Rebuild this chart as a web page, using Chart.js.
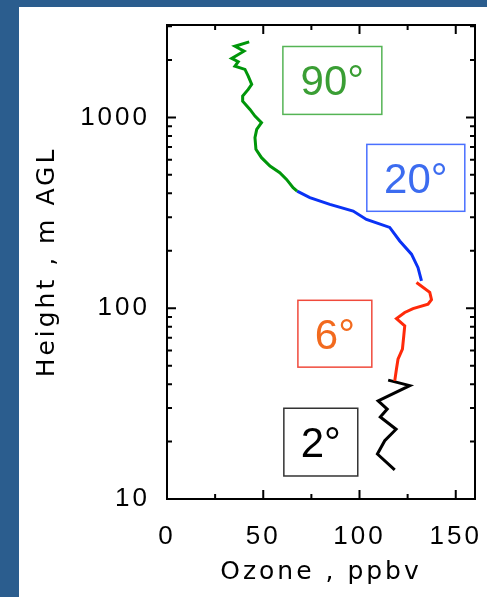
<!DOCTYPE html>
<html>
<head>
<meta charset="utf-8">
<script src="https://cdn.jsdelivr.net/npm/chart.js@4"></script>
<style>
  body { margin: 0; background: #2b5d8e; width: 487px; height: 597px; overflow: hidden; }
  #panel { position: absolute; left: 19px; top: 7px; width: 468px; height: 590px; background: #fff; }
</style>
</head>
<body>
<div id="panel"><canvas id="ozoneChart" width="468" height="590"></canvas></div>
<script>
// ozone (ppbv) vs height (m AGL), one trace per elevation angle
const greenOzone  = [42.7, 35.3, 40.0, 33.6, 37.0, 35.3, 40.5, 42.2, 44.0, 42.2, 39.3, 39.3, 43.1, 45.7, 49.1, 46.6, 45.7, 46.2, 49.1, 53.5, 58.6, 62.1, 65.5, 67.6];
const greenHeight = [2490, 2361, 2224, 2037, 1957, 1856, 1784, 1645, 1489, 1402, 1293, 1217, 1101, 1016, 938, 865, 783, 680, 615, 556, 513, 473, 428, 411];

const blueOzone  = [67.6, 74.2, 84.6, 96.7, 103.6, 115.7, 120.9, 127.0, 130.4, 132.2];
const blueHeight = [411, 380, 350, 323, 292, 265, 225, 192, 163, 139];

const redOzone  = [129.6, 136.5, 137.4, 135.6, 127.8, 123.5, 119.2, 123.5, 123.0, 122.3, 120.0, 119.2, 118.3];
const redHeight = [136.3, 121, 111, 105, 99.6, 95, 88.3, 80.8, 71.6, 61.0, 54.0, 48.0, 41.6];

const blackOzone  = [114.9, 126.1, 109.7, 114.4, 110.8, 119.0, 113.1, 109.3, 118.3];
const blackHeight = [42.0, 39.3, 32.7, 29.6, 26.9, 23.2, 20.2, 17.2, 14.2];

const xTicks = [0, 50, 100, 150];
const xMinorTicks = [25, 75, 125];
const yTicks = [10, 100, 1000];
const yMinorTicks = [20, 30, 40, 50, 60, 70, 80, 90, 200, 300, 400, 500, 600, 700, 800, 900, 2000, 3000];

const angleLabels = ['90°', '20°', '6°', '2°'];

// label boxes, in data units
const boxes = [
  { text: angleLabels[0], x: [60.2, 111.6], y: [1037, 2353], stroke: '#55b455', fill: '#3a9e34' },
  { text: angleLabels[1], x: [103.8, 154.7], y: [322, 722], stroke: '#4a70ff', fill: '#3c6cf0' },
  { text: angleLabels[2], x: [68.0, 106.4], y: [49.1, 110], stroke: '#f04a3c', fill: '#f26a1e' },
  { text: angleLabels[3], x: [60.7, 99.1], y: [13.2, 29.9], stroke: '#333333', fill: '#000000' }
];

function pts(xs, ys) { return xs.map((x, i) => ({ x: x, y: ys[i] })); }

function trace(data, color) {
  return { data: data, borderColor: color, backgroundColor: color, borderWidth: 3,
           showLine: true, pointRadius: 0, tension: 0, borderJoinStyle: 'miter' };
}

function noPad(s) {
  s.paddingLeft = 0; s.paddingRight = 0; s.paddingTop = 0; s.paddingBottom = 0;
}

const frame = {
  id: 'frame',
  beforeDraw(chart) {
    chart.ctx.letterSpacing = '3px';
  },
  afterDatasetsDraw(chart) {
    const ctx = chart.ctx;
    const a = chart.chartArea;
    const xs = chart.scales.x, ys = chart.scales.y;
    ctx.save();
    ctx.strokeStyle = '#000';
    ctx.lineWidth = 2;
    ctx.strokeRect(a.left, a.top, a.right - a.left, a.bottom - a.top);
    ctx.beginPath();
    const xt = (v, len) => {
      const p = xs.getPixelForValue(v);
      ctx.moveTo(p, a.bottom); ctx.lineTo(p, a.bottom - len);
      ctx.moveTo(p, a.top); ctx.lineTo(p, a.top + len);
    };
    const yt = (v, len) => {
      const p = ys.getPixelForValue(v);
      ctx.moveTo(a.left, p); ctx.lineTo(a.left + len, p);
      ctx.moveTo(a.right, p); ctx.lineTo(a.right - len, p);
    };
    xTicks.forEach(v => xt(v, 9));
    xMinorTicks.forEach(v => xt(v, 5));
    yTicks.forEach(v => yt(v, 9));
    yMinorTicks.forEach(v => yt(v, 5));
    ctx.stroke();

    ctx.letterSpacing = '0px';
    ctx.font = '42px "Liberation Sans", Arial, sans-serif';
    ctx.textAlign = 'center';
    ctx.textBaseline = 'alphabetic';
    boxes.forEach(b => {
      const x1 = xs.getPixelForValue(b.x[0]), x2 = xs.getPixelForValue(b.x[1]);
      const y1 = ys.getPixelForValue(b.y[1]), y2 = ys.getPixelForValue(b.y[0]);
      ctx.lineWidth = 1.5;
      ctx.strokeStyle = b.stroke;
      ctx.strokeRect(x1, y1, x2 - x1, y2 - y1);
      ctx.fillStyle = b.fill;
      ctx.fillText(b.text, (x1 + x2) / 2, (y1 + y2) / 2 + 42 * 0.358);
    });
    ctx.restore();
  }
};

Chart.defaults.color = '#000';

new Chart(document.getElementById('ozoneChart'), {
  type: 'scatter',
  data: {
    datasets: [
      trace(pts(greenOzone, greenHeight), '#00960a'),
      trace(pts(blueOzone, blueHeight), '#0a32f5'),
      trace(pts(redOzone, redHeight), '#ff2a0a'),
      trace(pts(blackOzone, blackHeight), '#000000')
    ]
  },
  options: {
    responsive: false,
    animation: false,
    layout: { padding: { top: 18, right: 12, left: 0, bottom: 0 } },
    plugins: { legend: { display: false }, tooltip: { enabled: false } },
    scales: {
      x: {
        type: 'linear', min: 0, max: 160,
        grid: { display: false }, border: { display: false },
        afterBuildTicks: s => { s.ticks = xTicks.map(v => ({ value: v })); },
        afterFit: s => { s.height = 98; noPad(s); },
        ticks: { padding: 14, maxRotation: 0, font: { family: '"Liberation Sans", Arial, sans-serif', size: 26 }, callback: v => String(v) },
        title: { display: true, text: 'Ozone , ppbv', padding: { top: 0, bottom: 12 },
                 font: { family: '"DejaVu Sans", sans-serif', size: 25, lineHeight: 1 } }
      },
      y: {
        type: 'logarithmic', min: 10, max: 3050,
        grid: { display: false }, border: { display: false },
        afterBuildTicks: s => { s.ticks = yTicks.map(v => ({ value: v })); },
        afterFit: s => { s.width = 148; noPad(s); },
        ticks: { padding: 9, font: { family: '"Liberation Sans", Arial, sans-serif', size: 26 }, callback: v => String(v) },
        title: { display: true, text: 'Height , m AGL', padding: { top: 16, bottom: 0 },
                 font: { family: '"DejaVu Sans", sans-serif', size: 25, lineHeight: 1 } }
      }
    }
  },
  plugins: [frame]
});
</script>
</body>
</html>
